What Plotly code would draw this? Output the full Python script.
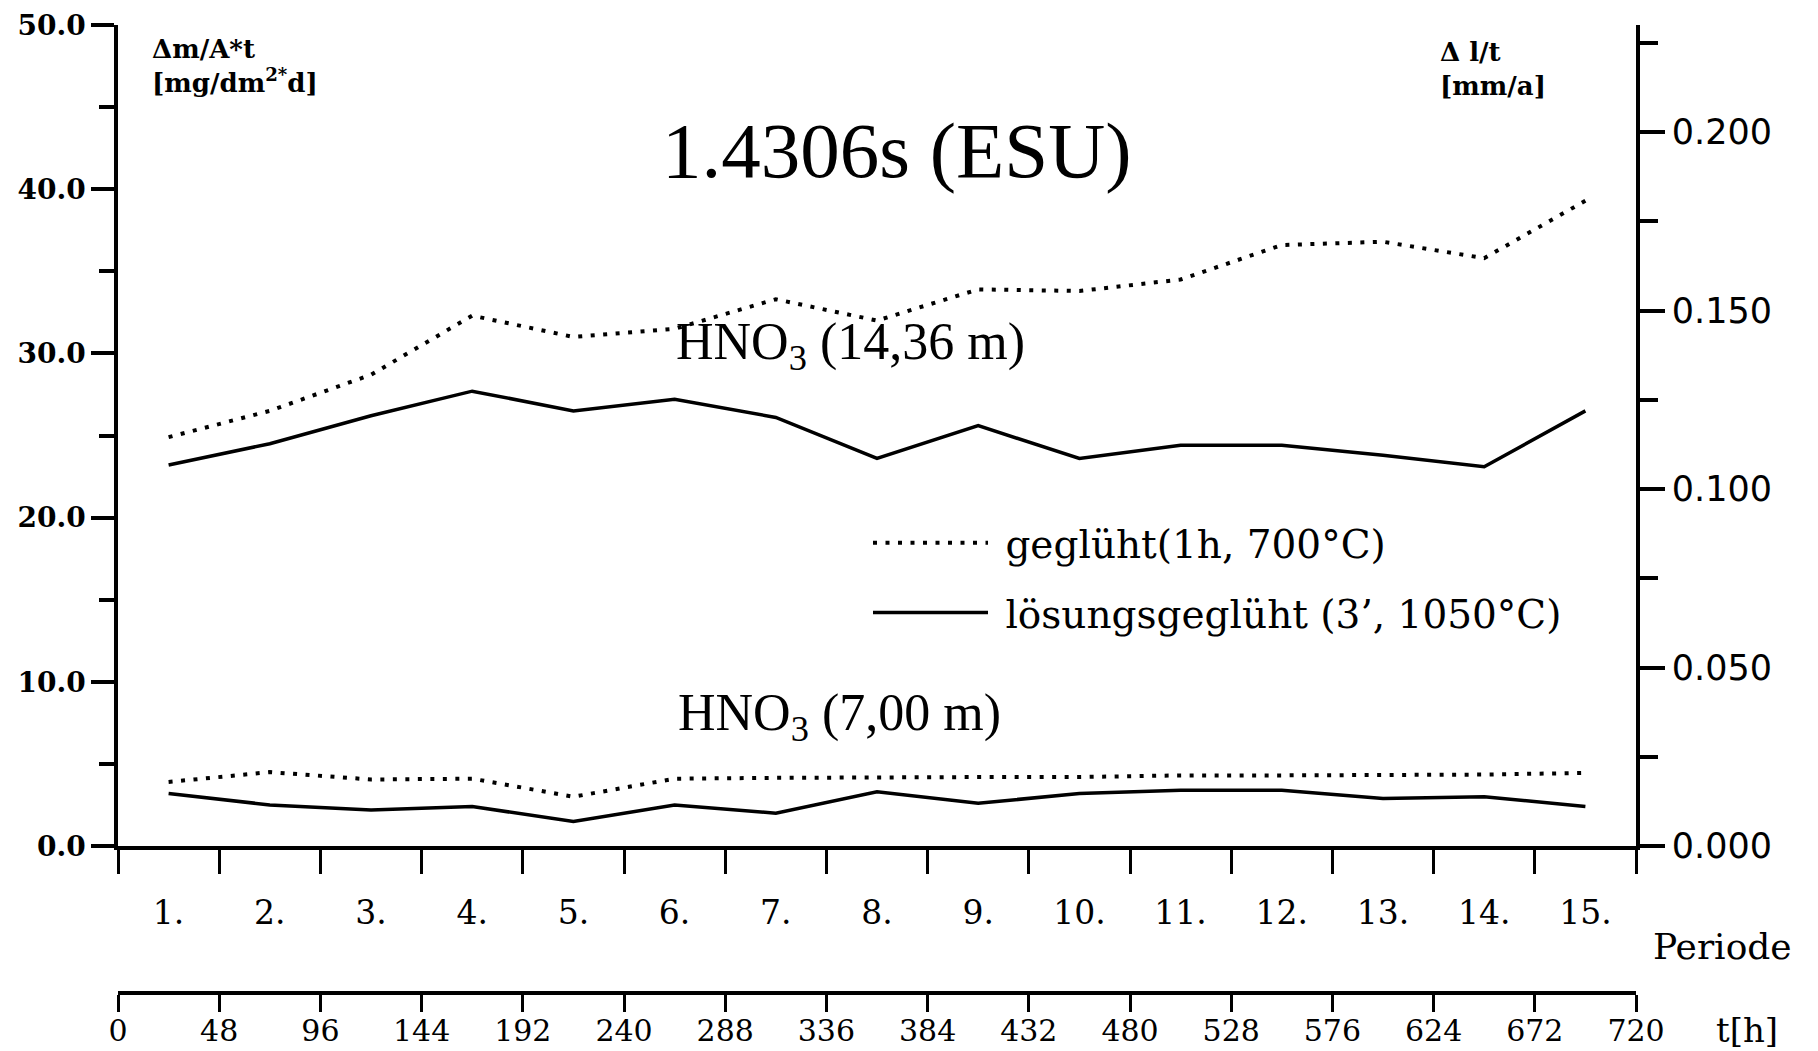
import plotly.graph_objects as go

# ---- data -------------------------------------------------------------
periods = ["1.", "2.", "3.", "4.", "5.", "6.", "7.", "8.", "9.", "10.",
           "11.", "12.", "13.", "14.", "15."]
# middle of each 48 h period, in hours
period_mid_h = [24, 72, 120, 168, 216, 264, 312, 360, 408, 456,
                504, 552, 600, 648, 696]
hour_ticks = [0, 48, 96, 144, 192, 240, 288, 336, 384, 432, 480,
              528, 576, 624, 672, 720]

# Δm/A*t  [mg/dm²*d]
gegl_14_36 = [24.9, 26.5, 28.7, 32.3, 31.0, 31.5, 33.3, 32.0, 33.9, 33.8,
              34.5, 36.6, 36.8, 35.8, 39.3]
loes_14_36 = [23.2, 24.5, 26.2, 27.7, 26.5, 27.2, 26.1, 23.6, 25.6, 23.6,
              24.4, 24.4, 23.8, 23.1, 26.5]
gegl_7_00 = [3.9, 4.5, 4.05, 4.1, 3.0, 4.1, 4.15, 4.2, 4.2, 4.2,
             4.3, 4.3, 4.3, 4.35, 4.45]
loes_7_00 = [3.2, 2.5, 2.2, 2.4, 1.5, 2.5, 2.0, 3.3, 2.6, 3.2,
             3.4, 3.4, 2.9, 3.0, 2.4]

left_ticks = [0, 10, 20, 30, 40, 50]
right_ticks = [0.0, 0.05, 0.10, 0.15, 0.20]

# ---- geometry ---------------------------------------------------------
W, H = 1818, 1051
L, R, T, B = 118, 182, 25, 58
PW, PH = W - L - R, H - T - B
Y_ZERO_PX = 846                     # bottom of the plotting area
dom_bottom = (H - B - Y_ZERO_PX) / PH


def px(x):
    return (x - L) / PW


def py(y):
    return (H - B - y) / PH


SERIF = "DejaVu Serif"
TITLE_SERIF = "Liberation Serif"
INK = "black"
LW = 3.5
DOT = dict(color=INK, width=4, dash="4px,8.5px")
SOLID = dict(color=INK, width=3.5)
NB = "\u00a0"

fig = go.Figure()

fig.add_trace(go.Scatter(x=period_mid_h, y=gegl_14_36, mode="lines", line=DOT,
                         name=NB + "geglüht(1h, 700°C)", legendgroup="a",
                         hoverinfo="skip"))
fig.add_trace(go.Scatter(x=period_mid_h, y=loes_14_36, mode="lines", line=SOLID,
                         name=NB + "lösungsgeglüht (3’, 1050°C)",
                         legendgroup="b", hoverinfo="skip"))
fig.add_trace(go.Scatter(x=period_mid_h, y=gegl_7_00, mode="lines", line=DOT,
                         showlegend=False, hoverinfo="skip"))
fig.add_trace(go.Scatter(x=period_mid_h, y=loes_7_00, mode="lines", line=SOLID,
                         showlegend=False, hoverinfo="skip"))
# placeholders so the secondary axes are rendered
fig.add_trace(go.Scatter(x=[None], y=[None], xaxis="x2", yaxis="y2",
                         showlegend=False, hoverinfo="skip"))
fig.add_trace(go.Scatter(x=[None], y=[None], xaxis="x3", yaxis="y",
                         showlegend=False, hoverinfo="skip"))

axis_common = dict(showgrid=False, zeroline=False, linecolor=INK,
                   linewidth=LW, tickcolor=INK, fixedrange=True,
                   automargin=False)

fig.update_layout(
    width=W, height=H,
    margin=dict(l=L, r=R, t=T, b=B, pad=0, autoexpand=False),
    paper_bgcolor="white", plot_bgcolor="white",
    font=dict(family=SERIF, color=INK),
    # period axis (boundaries)
    xaxis=dict(domain=[0, 1], range=[0, 720], anchor="y",
               tickmode="array", tickvals=hour_ticks, showticklabels=False,
               ticks="outside", ticklen=24, tickwidth=3, showline=True,
               **axis_common),
    # period labels, centred in each period
    xaxis3=dict(overlaying="x", anchor="y", range=[0, 720], side="bottom",
                tickmode="array", tickvals=period_mid_h, ticktext=periods,
                ticks="outside", ticklen=37, tickcolor="rgba(0,0,0,0)",
                tickfont=dict(family=SERIF, size=33, color=INK),
                showline=False, showgrid=False, zeroline=False,
                fixedrange=True, automargin=False),
    # time axis in hours
    xaxis2=dict(overlaying="x", anchor="free", position=0, side="bottom",
                range=[0, 720], tickmode="array", tickvals=hour_ticks,
                ticktext=[str(v) for v in hour_ticks],
                ticks="outside", ticklen=17, tickwidth=3, showline=True,
                ticklabelstandoff=-7,
                tickfont=dict(family=SERIF, size=30, color=INK),
                **axis_common),
    yaxis=dict(domain=[dom_bottom, 1], range=[0, 50], anchor="x",
               tickmode="array", tickvals=left_ticks, tickformat=".1f",
               ticks="outside", ticklen=23, tickwidth=LW, showline=True,
               tickfont=dict(family=SERIF, size=28, color=INK, weight="bold"),
               minor=dict(tickmode="array", tickvals=[5, 15, 25, 35, 45],
                          ticks="outside", ticklen=15, tickwidth=LW,
                          tickcolor=INK),
               **axis_common),
    yaxis2=dict(overlaying="y", side="right", anchor="x", range=[0, 0.23],
                tickmode="array", tickvals=right_ticks, tickformat=".3f",
                ticks="outside", ticklen=25, tickwidth=LW, showline=True,
                tickfont=dict(family="DejaVu Sans", size=35, color=INK),
                minor=dict(tickmode="array",
                           tickvals=[0.025, 0.075, 0.125, 0.175, 0.225],
                           ticks="outside", ticklen=18, tickwidth=LW,
                           tickcolor=INK),
                **axis_common),
    showlegend=True,
    legend=dict(x=px(868), y=py(511), xanchor="left", yanchor="top",
                bgcolor="rgba(0,0,0,0)", borderwidth=0,
                font=dict(family=SERIF, size=39, color=INK),
                itemwidth=115, tracegroupgap=16, itemclick=False,
                itemdoubleclick=False),
)

annotations = [
    dict(text="1.4306s (ESU)", x=px(897), y=py(150), xanchor="center",
         yanchor="middle", font=dict(family=TITLE_SERIF, size=79)),
    dict(text="HNO<sub>3</sub> (14,36 m)", x=px(674), y=py(345),
         xanchor="left", yanchor="middle",
         font=dict(family=TITLE_SERIF, size=52)),
    dict(text="HNO<sub>3</sub> (7,00 m)", x=px(676), y=py(716),
         xanchor="left", yanchor="middle",
         font=dict(family=TITLE_SERIF, size=52)),
    dict(text="Δm/A*t<br>[mg/dm<sup>2*</sup>d]", x=px(150), y=py(32),
         xanchor="left", yanchor="top", align="left",
         font=dict(family=SERIF, size=26, weight="bold")),
    dict(text="Δ l/t<br>[mm/a]", x=px(1438), y=py(35),
         xanchor="left", yanchor="top", align="left",
         font=dict(family=SERIF, size=26, weight="bold")),
    dict(text="Periode", x=px(1651), y=py(946), xanchor="left",
         yanchor="middle", font=dict(family=SERIF, size=36)),
    dict(text="t[h]", x=px(1714), y=py(1030), xanchor="left",
         yanchor="middle", font=dict(family=SERIF, size=34)),
]
for a in annotations:
    a.update(xref="paper", yref="paper", showarrow=False)
    a["font"]["color"] = INK
fig.update_layout(annotations=annotations)

fig.write_html("out.html")
